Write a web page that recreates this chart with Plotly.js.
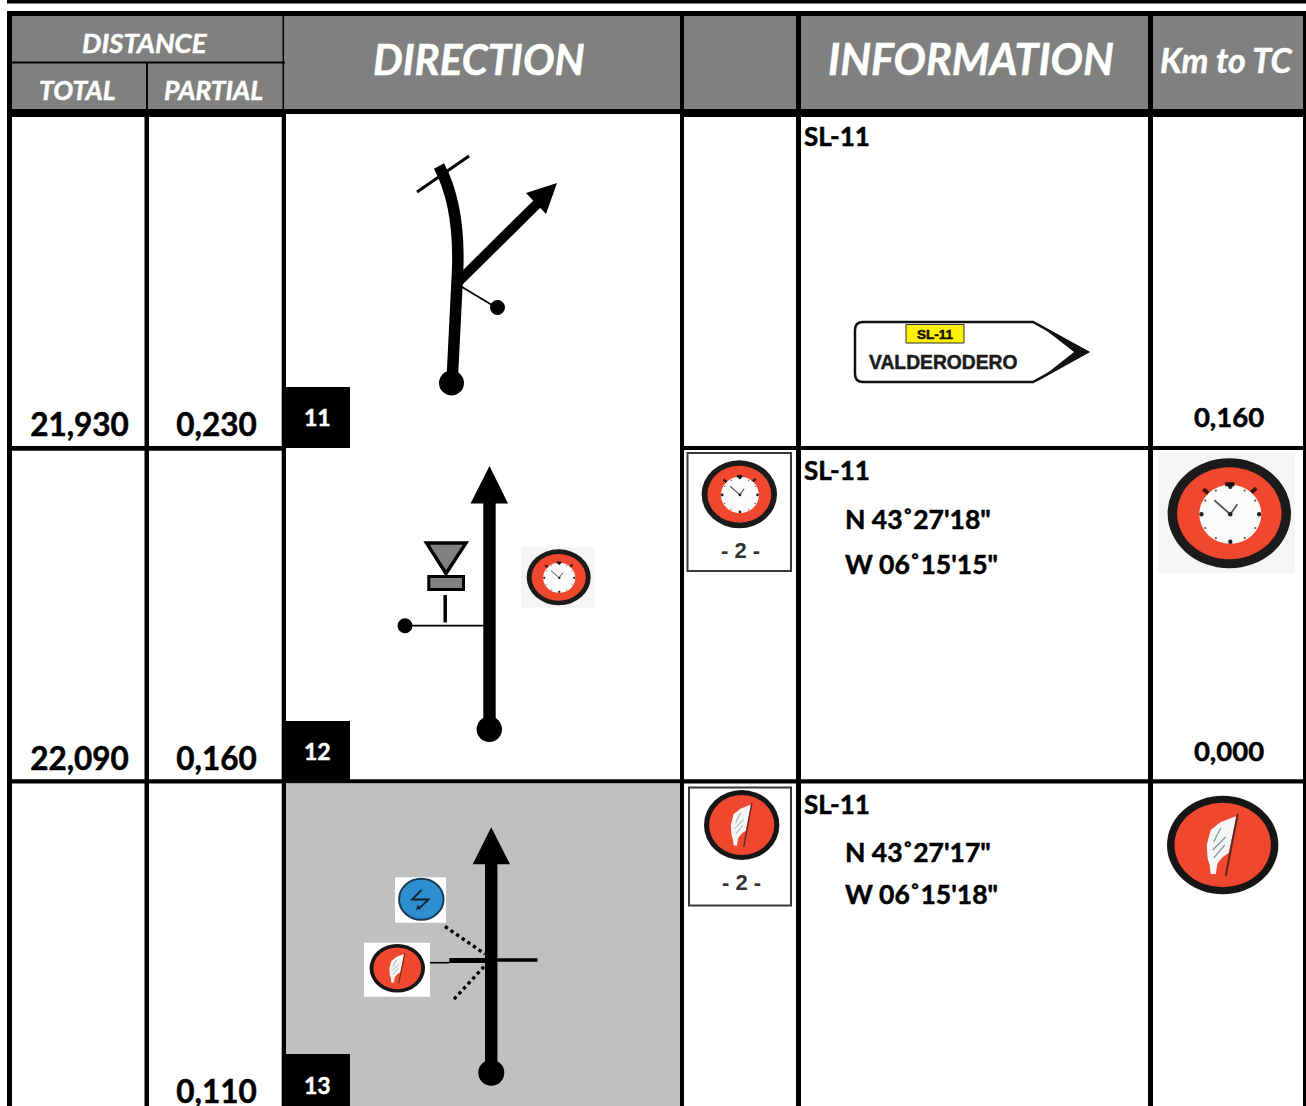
<!DOCTYPE html>
<html><head><meta charset="utf-8">
<script src="https://cdn.plot.ly/plotly-3.0.1.min.js"></script>
<style>html,body{margin:0;padding:0;background:#fff}#c{width:1306px;height:1106px}</style>
</head><body><div id="c"></div>
<script>
const totals = ["21,930","22,090",""];
const partials = ["0,230","0,160","0,110"];
const kmToTc = ["0,160","0,000",""];
const rowNumbers = ["11","12","13"];
const roads = ["SL-11","SL-11","SL-11"];
const north = ["","N 43˚27'18\"","N 43˚27'17\""];
const west = ["","W 06˚15'15\"","W 06˚15'18\""];
const signRoad = "SL-11";
const signPlace = "VALDERODERO";
const stage = "- 2 -";
const headers = ["DISTANCE","TOTAL","PARTIAL","DIRECTION","INFORMATION","Km to TC"];

const FONT = "Lato, Carlito, sans-serif";
const shapes = [], annotations = [];
const BLACK = "#000", RED = "#f0482f", NONE = "rgba(0,0,0,0)";

function rect(x0,y0,x1,y1,fill,stroke,w){shapes.push({type:"rect",xref:"x",yref:"y",x0,y0,x1,y1,fillcolor:fill,line:{color:stroke||fill,width:stroke?(w||1):0}});}
function oval(cx,cy,rx,ry,fill,stroke,w){shapes.push({type:"circle",xref:"x",yref:"y",x0:cx-rx,y0:cy-ry,x1:cx+rx,y1:cy+ry,fillcolor:fill,line:{color:stroke||fill,width:stroke?(w||1):0}});}
function path(d,fill,stroke,w,dash){shapes.push({type:"path",path:d,xref:"x",yref:"y",fillcolor:fill||NONE,line:{color:stroke||NONE,width:stroke?(w||1):0,dash:dash||"solid"}});}
function line(x0,y0,x1,y1,w,dash,color){shapes.push({type:"line",xref:"x",yref:"y",x0,y0,x1,y1,line:{color:color||BLACK,width:w,dash:dash||"solid"}});}
function poly(p,fill,stroke,w){path("M"+p.map(q=>q.join(" ")).join(" L")+" Z",fill,stroke,w);}
function label(text,x,y,size,opts){opts=opts||{};annotations.push({text:opts.italic?"<i>"+text+"</i>":text,x,y,xref:"x",yref:"y",showarrow:false,xanchor:opts.anchor||"center",yanchor:"middle",borderpad:0,
  font:{family:opts.family||FONT,size,color:opts.color||BLACK,weight:opts.weight||700}});}

/* page rule + table frame */
rect(7,0,1306,3.5,BLACK);
rect(7,11,1306,117,BLACK);
rect(7,11,12,1106,BLACK);
rect(1303,11,1306,1106,BLACK);
/* header cells */
rect(12,16,282.5,61.5,"#808080");
rect(12,63.5,146,109,"#808080");
rect(148,63.5,282.5,109,"#808080");
rect(284,16,680,109,"#808080");
rect(684,16,796,109,"#808080");
rect(801,16,1148,109,"#808080");
rect(1153,16,1303,109,"#808080");
rect(282.5,61.5,285,63.5,BLACK);
/* body cells */
rect(286,114,680,117,"#fff");
/* column rules */
rect(144.5,117,149,1106,BLACK);
rect(281.7,117,286,1106,BLACK);
rect(680,114,684,1106,BLACK);
rect(796,114,801,1106,BLACK);
rect(1148,114,1153,1106,BLACK);
/* row rules */
rect(12,446,286,450.7,BLACK);
rect(684,446,1303,450,BLACK);
rect(12,779.3,1303,783.5,BLACK);
/* highlighted row */
rect(286,783.5,680,1106,"#c0c0c0");

/* row number tabs */
[[387,448],[721,781],[1054,1106]].forEach((b,i)=>{
  rect(285,b[0],350,b[1],BLACK);
  label(rowNumbers[i],317.5,[417,751,1085][i],23,{color:"#fff"});
});

/* tulip 11 */
path("M452 383 L457.5 273 C459 240 456 198 439 166",null,BLACK,11.5);
oval(451.5,383,12.5,12.5,BLACK);
line(417,192,469,156,3);
line(456,284,541,200,10);
poly([[557,183],[526,193],[546,214]],BLACK);
line(462,287,497,308,1.8);
oval(497.5,307.5,7.5,7.5,BLACK);

/* sign */
path("M863 322 L1033 322 L1087 352 L1033 382 L863 382 Q855 382 855 374 L855 330 Q855 322 863 322 Z","#fff","#111",2.5);
path("M1036 322.5 L1090 352 L1036 382 L1074 352 Z","#111");
rect(906,324.5,964,343,"#fff200","#333",1);
label(signRoad,935,334,13.5,{family:"Liberation Sans",color:"#111",weight:700});
label(signPlace,943,362,19.3,{family:"Liberation Sans",color:"#1c1c1c"});

/* tulip 12 */
line(489.5,503,489.5,725,12.4);
poly([[489.5,466],[470.5,503.5],[508,503.5]],BLACK);
oval(489.3,729.3,12.7,12.7,BLACK);
poly([[426.5,543],[466,543],[446,573.5]],"#808080",BLACK,3.4);
rect(428.8,576.5,463.5,589.5,"#808080",BLACK,3);
line(445.2,595,445.2,622.5,3.5);
line(405,625.7,484,625.7,1.7);
oval(405,625.7,7.5,7.5,BLACK);

function clock(cx,cy,rx,ry){
  const kx=rx/61.7, ky=ry/55, k=(kx+ky)/2;
  oval(cx,cy,rx,ry,"#1b1b1b");
  oval(cx,cy,rx-9.5*kx,ry-9*ky,RED);
  const ix=cx+1*kx, iy=cy+1*ky, irx=31*kx, iry=29.5*ky;
  oval(ix,iy,irx,iry,"#fbfbfb");
  for(let a=0;a<12;a++){
    const t=a*Math.PI/6, big=a%3===0;
    const r=big?2.2*k:1.1*k;
    oval(ix+Math.cos(t)*irx*.93,iy+Math.sin(t)*iry*.93,r,r,big?"#222":"#556");
  }
  rect(ix-5*kx,iy-32*ky,ix+4*kx,iy-28*ky,"#111");
  line(ix-27*kx,iy-25*ky,ix-22*kx,iy-21*ky,Math.max(1.5,4*k),null,"#3a1510");
  line(ix+26*kx,iy-26*ky,ix+21*kx,iy-22*ky,Math.max(1.5,4*k),null,"#3a1510");
  line(ix,iy,ix-16*kx,iy-14*ky,Math.max(1,1.8*k),null,"#555");
  line(ix,iy,ix+7*kx,iy-10*ky,Math.max(1,1.8*k),null,"#555");
  oval(ix,iy,2.3*k,2.3*k,"#222");
}
function flag(cx,cy,rx,ry){
  const kx=rx/55.7, ky=ry/49.3, k=(kx+ky)/2;
  oval(cx,cy,rx,ry,"#161616");
  oval(cx,cy,rx-7.5*kx,ry-7*ky,RED);
  const pts=[[14,-29],[-2,-23],[-12,-15],[-16,0],[-15,14],[-13,20],[-12,29],[-7,29],[-5,18],[0,12],[6,8]].map(p=>[cx+p[0]*kx,cy+p[1]*ky]);
  poly(pts,"#f6f6f6");
  line(cx+15*kx,cy-31*ky,cx+3*kx,cy+31*ky,Math.max(1,2*k),null,"#5a2a20");
  [[-2,-17,-9,-3],[3,-8,-10,5],[2,0,-9,13]].forEach(s=>line(cx+s[0]*kx,cy+s[1]*ky,cx+s[2]*kx,cy+s[3]*ky,Math.max(.7,1.2*k),null,"#7f9595"));
}

rect(521,547.3,595,607.7,"#f5f5f5");
clock(558.7,577.3,32,28);

/* tulip 13 */
line(491.2,864,491.2,1068,12.4);
poly([[491.2,827.3],[472.7,864.3],[510,864.3]],BLACK);
oval(491.3,1072.7,13,13,BLACK);
line(449.3,960.5,491,960.5,5);
line(491,960,537.5,960,3.5);
line(430,962.7,449.3,962.7,1.6);
line(445,926.5,485,954,3.4,"dot");
line(484,966.7,452.7,1000.7,3.4,"dot");
rect(395,877.3,446,922.7,"#fff");
oval(421.3,899.3,22.2,20.5,"#2d8fd0","#173a55",2);
path("M421.5 890 L412 899.5 L428.5 899.5 L418.5 909",null,"#123",1.8);
poly([[416,910],[421,908],[417.5,905]],"#123");
rect(364,942.7,430,996.7,"#fff");
flag(397.3,968.3,27.7,24.3);

/* stage boxes */
rect(687.5,453,791,571,"#fff","#3a3a3a",2);
clock(739.3,494.3,37.7,34);
label(stage,740,550,22,{family:"Liberation Sans",color:"#333"});
rect(689,787.5,791,905.5,"#fff","#3a3a3a",2);
flag(741.7,825,37.7,35);
label(stage,741.7,882,22,{family:"Liberation Sans",color:"#333"});

/* Km to TC icons */
rect(1158,453,1295,573,"#f5f5f5");
clock(1229.3,513.3,61.7,55);
flag(1222.7,845,55.7,49.3);

/* header text */
label(headers[0],145,42.5,27.5,{italic:true,color:"#fff"});
label(headers[1],77,90,26.5,{italic:true,color:"#fff"});
label(headers[2],213,90,26.5,{italic:true,color:"#fff"});
label(headers[3],479,58.5,42,{italic:true,color:"#fff"});
label(headers[4],971,58.5,43,{italic:true,color:"#fff"});
label(headers[5],1226,59,34,{italic:true,color:"#fff"});

/* information text */
const infoY = [136,470,804], nY = [0,519,852], wY = [0,564,894];
roads.forEach((r,i)=>label(r,803,infoY[i],26,{anchor:"left"}));
north.forEach((t,i)=>{ if(t) label(t,843.5,nY[i],26.5,{anchor:"left"}); });
west.forEach((t,i)=>{ if(t) label(t,843.5,wY[i],26.5,{anchor:"left"}); });

/* distance values */
const rowY = [428,762,1095], kmY = [420,754];
const valueFont = {family:FONT,size:31.5,color:BLACK,weight:700};
const data = [
 {type:"scatter",mode:"text",x:totals.map(()=>79.5),y:rowY,text:totals,textposition:"middle center",textfont:valueFont,hoverinfo:"skip"},
 {type:"scatter",mode:"text",x:partials.map(()=>216.5),y:rowY,text:partials,textposition:"middle center",textfont:valueFont,hoverinfo:"skip"},
 {type:"scatter",mode:"text",x:kmY.map(()=>1229),y:kmY,text:kmToTc.slice(0,2),textposition:"middle center",textfont:{family:FONT,size:27.5,color:BLACK,weight:700},hoverinfo:"skip"}
];

const layout = {
  width:1306,height:1106,margin:{l:0,r:0,t:0,b:0,pad:0},
  paper_bgcolor:"#fff",plot_bgcolor:"#fff",showlegend:false,
  xaxis:{range:[0,1306],visible:false,fixedrange:true},
  yaxis:{range:[1106,0],visible:false,fixedrange:true},
  shapes,annotations
};
Plotly.newPlot("c",data,layout,{staticPlot:true,displayModeBar:false}).then(()=>{
  document.querySelectorAll("#c svg text").forEach(t=>{
    const f=t.style.fill||"#000";
    if(t.textContent===stage||t.textContent===signRoad&&false) return;
    t.style.stroke=f; t.style.strokeWidth="0.5px";
  });
});
</script></body></html>
